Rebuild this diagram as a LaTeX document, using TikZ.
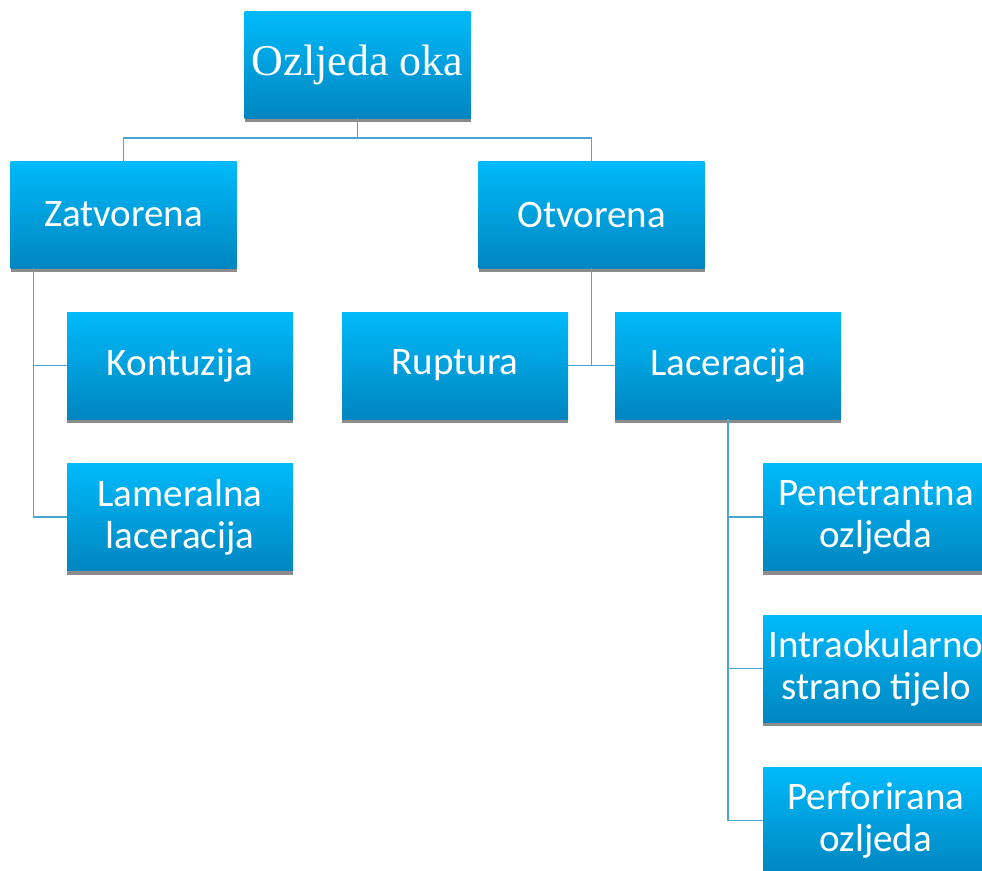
\documentclass[tikz,border=0pt]{standalone}
\usepackage{fontspec}
\setmainfont{Carlito}
\newfontfamily\titlefont{Liberation Serif}
\usepackage{tikz}
\usetikzlibrary{positioning, calc, shadows}
\definecolor{boxtop}{RGB}{0,186,250}
\definecolor{boxbot}{RGB}{0,134,192}
\definecolor{linkblue}{RGB}{75,165,210}
\tikzset{
  box/.style = {rectangle, top color=boxtop, bottom color=boxbot, draw=none,
    minimum width=226pt, minimum height=107pt, text=white, align=center,
    font=\fontsize{39}{42}\selectfont,
    drop shadow={shadow xshift=0pt, shadow yshift=-4pt, fill=black!45, opacity=1}},
  link/.style = {draw=linkblue, line width=1.5pt},
}

\begin{document}
\begin{tikzpicture}[x=1pt, y=-1pt]
  \useasboundingbox (0,0) rectangle (982,870);
  \clip (0,0) rectangle (982,870);

  % Root
  \node[box, font=\titlefont\fontsize{44}{48}\selectfont] (root) at (357.5,64.5) {Ozljeda oka};

  % Level 1
  \node[box] (zat) at (123.5,214.5) {Zatvorena};
  \node[box] (otv) at (591.5,214.5) {Otvorena};

  % Closed
  \node[box] (kon) at (180,365.5) {Kontuzija};
  \node[box] (lam) at (180,517) {Lameralna\\laceracija};

  % Open
  \node[box] (rup) at (455,365.5) {Ruptura};
  \node[box] (lac) at (728,365.5) {Laceracija};

  % Laceration
  \node[box] (pen) at (876,517) {Penetrantna\\ozljeda};
  \node[box] (ist) at (876,668.5) {Intraokularno\\strano tijelo};
  \node[box] (per) at (876,820.5) {Perforirana\\ozljeda};

  % Links
  \draw[link] (root.south) -- ++(0,20) coordinate (rj) -| (zat.north);
  \draw[link] (rj) -| (otv.north);
  \draw[link] ([xshift=23pt]zat.south west) |- (kon.west);
  \draw[link] ([xshift=23pt]zat.south west) |- (lam.west);
  \draw[link] (otv.south) -- (otv.south |- rup.east);
  \draw[link] (rup.east) -- (lac.west);
  \draw[link] (lac.south) |- (pen.west);
  \draw[link] (lac.south) |- (ist.west);
  \draw[link] (lac.south) |- (per.west);

\end{tikzpicture}
\end{document}
